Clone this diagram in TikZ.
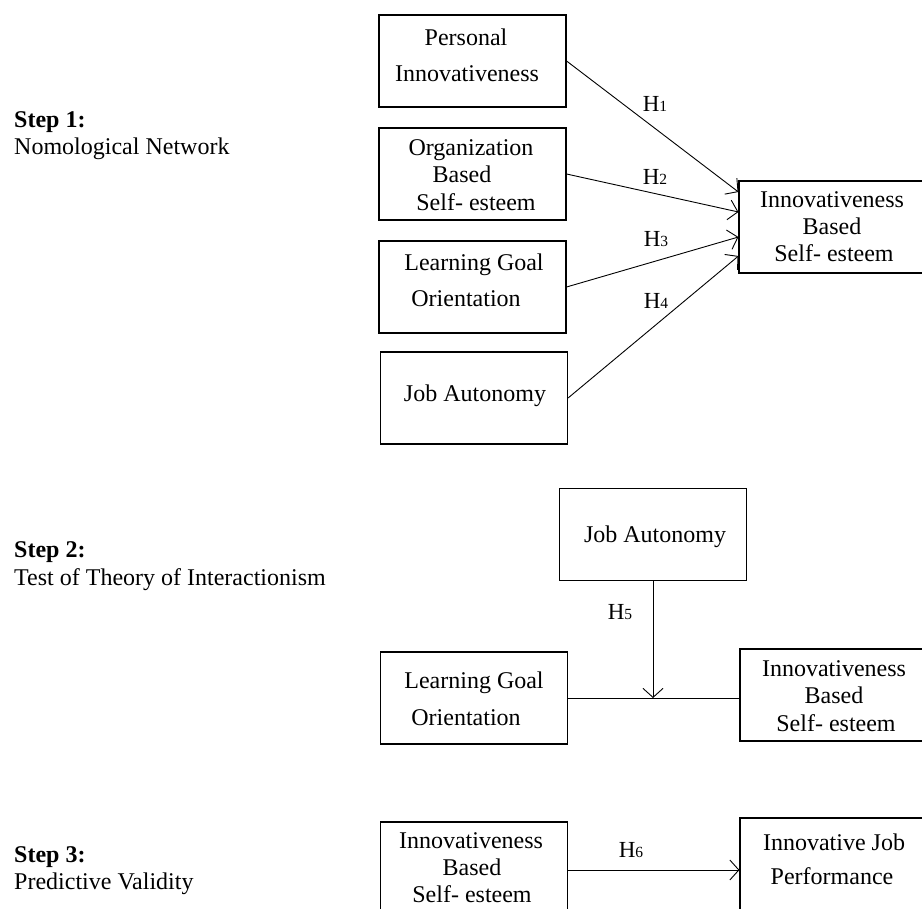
\documentclass[tikz,border=0pt]{standalone}
\usepackage{fontspec}
\setmainfont{Liberation Serif}
\usetikzlibrary{arrows.meta,calc}

\newcommand{\hyp}[1]{H{\fontsize{15.5}{15.5}\selectfont #1}}

\tikzset{
  x=1pt, y=-1pt,
  varbox/.style={draw, line width=1.1pt, minimum width=187pt, minimum height=92pt, inner sep=0pt},
  widebox/.style={varbox, minimum width=191pt},
  txt/.style={anchor=base, inner sep=0pt, font=\fontsize{24}{28}\selectfont},
  steptxt/.style={anchor=base west, inner sep=0pt, font=\fontsize{24}{28}\selectfont},
  hlbl/.style={anchor=base, inner sep=0pt, font=\fontsize{23}{27}\selectfont},
  link/.style={line width=0.9pt},
  arr/.style={link, -{Straight Barb[length=9pt,width=20pt,line width=0.9pt]}}
}

\begin{document}
\begin{tikzpicture}
\useasboundingbox (0,0) rectangle (922,909);
\clip (0,0) rectangle (922,909);

% step headings
\node[steptxt] (s1a) at (14,128) {\textbf{Step 1:}};
\node[steptxt] (s1b) at (14,155) {Nomological Network};
\node[steptxt] (s2a) at (14,558) {\textbf{Step 2:}};
\node[steptxt] (s2b) at (14,585) {Test of Theory of Interactionism};
\node[steptxt] (s3a) at (14,862) {\textbf{Step 3:}};
\node[steptxt] (s3b) at (14,889) {Predictive Validity};

% step 1: antecedents
\node[varbox] (pi) at (472.5,61) {};
\node[txt] (pi1) at (466,46) {Personal};
\node[txt] (pi2) at (467,82) {Innovativeness};

\node[varbox] (ob) at (472.5,174) {};
\node[txt] (ob1) at (471,156) {Organization};
\node[txt] (ob2) at (462,183) {Based};
\node[txt] (ob3) at (476,211) {Self- esteem};

\node[varbox] (lg) at (472.5,287) {};
\node[txt] (lg1) at (474,271) {Learning Goal};
\node[txt] (lg2) at (466,307) {Orientation};

\node[varbox] (ja) at (474,398) {};
\node[txt] (ja1) at (475,402) {Job Autonomy};

% step 1: outcome
\node[widebox] (ib) at (834.5,227) {};
\node[txt] (ib1) at (832,208) {Innovativeness};
\node[txt] (ib2) at (832,235) {Based};
\node[txt] (ib3) at (834,262) {Self- esteem};

\draw[arr] (pi.east) -- ($(ib.west)+(0,-35)$);
\draw[arr] (ob.east) -- ($(ib.west)+(0,-15)$);
\draw[arr] (lg.east) -- ($(ib.west)+(0,10)$);
\draw[arr] (ja.east) -- ($(ib.west)+(0,29)$);

\node[hlbl] (h1) at (655,112) {\hyp{1}};
\node[hlbl] (h2) at (655,185) {\hyp{2}};
\node[hlbl] (h3) at (656,247) {\hyp{3}};
\node[hlbl] (h4) at (656,309) {\hyp{4}};

% step 2: moderation
\node[varbox] (mj) at (653,534.5) {};
\node[txt] (mj1) at (655,542) {Job Autonomy};

\node[varbox] (ml) at (474,698) {};
\node[txt] (ml1) at (474,688) {Learning Goal};
\node[txt] (ml2) at (466,725) {Orientation};

\node[widebox] (mi) at (835.5,695) {};
\node[txt] (mi1) at (834,676) {Innovativeness};
\node[txt] (mi2) at (834,703) {Based};
\node[txt] (mi3) at (836,731) {Self- esteem};

\draw[link] (ml.east) -- (mi.west |- ml.east);
\draw[arr] (mj.south) -- (mj.south |- ml.east);
\node[hlbl] (h5) at (620,619) {\hyp{5}};

% step 3: predictive validity
\node[varbox] (pb) at (474,868) {};
\node[txt] (pb1) at (471,848) {Innovativeness};
\node[txt] (pb2) at (472,875) {Based};
\node[txt] (pb3) at (472,902) {Self- esteem};

\node[widebox] (pj) at (835.5,864) {};
\node[txt] (pj1) at (834,850) {Innovative Job};
\node[txt] (pj2) at (832,884) {Performance};

\draw[arr] ($(pb.east)+(0,2)$) -- ($(pj.west)+(0,6)$);
\node[hlbl] (h6) at (631,857) {\hyp{6}};
\end{tikzpicture}
\end{document}
